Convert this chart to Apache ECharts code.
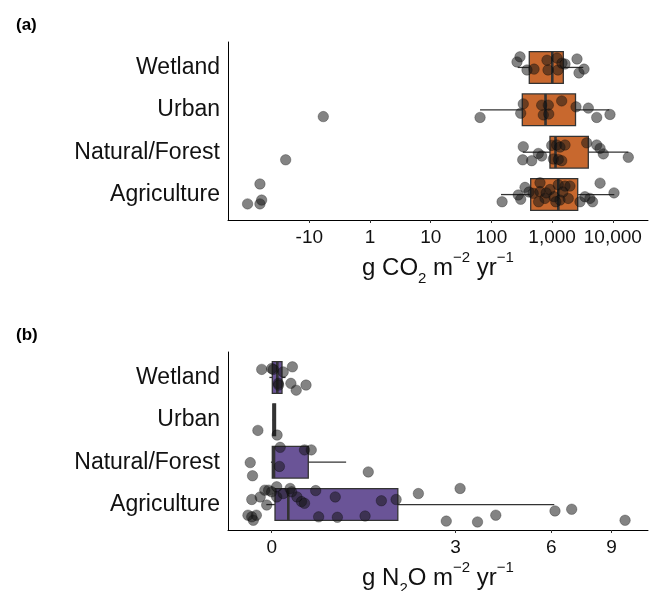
<!DOCTYPE html>
<html>
<head>
<meta charset="utf-8">
<script src="https://cdn.jsdelivr.net/npm/echarts@6/dist/echarts.min.js"></script>
<style>
html,body{margin:0;padding:0;background:#fff;}
#c{width:657px;height:591px;}
</style>
</head>
<body>
<div id="c"></div>
<script>
// ---------- data ----------
const categories = ['Agriculture', 'Natural/Forest', 'Urban', 'Wetland'];

// CO2 (g CO2 m-2 yr-1): box stats [low whisker, q1, median, q3, high whisker]
const co2BoxAgriculture = [144, 444, 1265, 2641, 10590];
const co2BoxNatural = [328, 923, 1138, 3948, 17990];
const co2BoxUrban = [65, 323, 779, 2430, 8750];
const co2BoxWetland = [271, 421, 1007, 1530, 3266];

// points: [value, vertical jitter in category units]
const co2Agriculture = [[-104,-0.22],[-65,0.25],[-65,-0.22],[-61,-0.13],[150,-0.17],[277,-0.01],[304,-0.11],[358,0.17],[416,0.06],[488,0.03],[632,0.28],[632,0.07],[764,-0.09],[923,0.12],[1075,-0.05],[1265,0.23],[1349,-0.13],[1632,0.2],[1842,-0.09],[1966,0.2],[1150,-0.17],[1500,0.06],[2883,-0.17],[3477,-0.05],[4200,-0.09],[4640,-0.17],[6170,0.27],[10470,0.04],[600,-0.17],[800,0.04]];
const co2Natural = [[-24.5,-0.18],[335,0.13],[328,-0.18],[461,-0.2],[593,-0.03],[674,-0.09],[985,0.16],[1190,0.17],[1349,0.12],[1632,0.17],[1047,-0.16],[1265,-0.17],[1439,-0.2],[3715,0.22],[5430,0.17],[6170,0.09],[6980,-0.04],[17990,-0.12]];
const co2Urban = [[-5.88,-0.16],[65,-0.18],[304,-0.08],[335,0.14],[674,0.11],[716,-0.12],[866,0.11],[880,-0.1],[1439,0.21],[2477,0.07],[3952,0.04],[5430,-0.18],[8990,-0.11]];
const co2Wetland = [[264,0.13],[296,0.25],[386,-0.06],[504,-0.04],[824,0.17],[856,-0.06],[1205,0.22],[1250,-0.06],[1455,0.1],[1632,0.08],[2572,0.2],[2773,-0.13],[3356,-0.04]];

// N2O (g N2O m-2 yr-1)
const n2oBoxAgriculture = [-0.07, 0.043, 0.216, 1.83, 6.12];
const n2oBoxNatural = [-0.01, 0.008, 0.03, 0.48, 1.006];
const n2oBoxUrban = [0.01, 0.015, 0.03, 0.05, 0.05];
const n2oBoxWetland = [-0.03, 0.008, 0.073, 0.134, 0.18];

const n2oAgriculture = [[-0.31,-0.25],[-0.26,0.12],[-0.24,-0.37],[-0.2,-0.25],[-0.26,-0.29],[-0.15,0.18],[-0.09,0.34],[-0.065,-0.01],[-0.04,0.34],[0,0.3],[0.065,0.42],[0.065,0.18],[0.15,0.26],[0.24,0.38],[0.26,0.3],[0.33,0.18],[0.39,0.07],[0.43,0.03],[0.58,0.33],[0.62,-0.29],[0.85,0.18],[0.88,-0.3],[1.29,-0.27],[1.55,0.09],[1.8,0.12],[2.21,0.26],[2.79,-0.39],[3.11,0.38],[3.55,-0.41],[4.06,-0.25],[6.15,-0.15],[6.89,-0.11],[9.85,-0.37]];
const n2oNatural = [[-0.28,-0.01],[-0.25,-0.32],[0.11,0.35],[0.1,-0.1],[0.43,0.29],[0.52,0.29],[1.34,-0.23]];
const n2oUrban = [[-0.18,-0.25],[0.07,-0.36]];
const n2oWetland = [[-0.13,0.19],[0.0,0.21],[0.02,0.19],[0.15,0.13],[0.27,0.25],[0.086,-0.14],[0.09,-0.18],[0.25,-0.14],[0.32,-0.3],[0.45,-0.18]];

// tick labels
const co2TickValues = [-10, 1, 10, 100, 1000, 10000];
const co2TickLabels = ['-10', '1', '10', '100', '1,000', '10,000'];
const n2oTickValues = [0, 3, 6, 9];
const n2oTickLabels = ['0', '3', '6', '9'];

// ---------- scales (axis transforms) ----------
function tfCO2(v){ return Math.sign(v) * Math.log10(Math.max(1, Math.abs(v))); }
function tfN2O(v){ return Math.asinh(v / 2); }

const FONT = 'Liberation Sans, Arial, sans-serif';
const ORANGE = '#C8682E';
const PURPLE = '#6A5497';
const LINE = '#333333';
const TEXT = '#111111';

function buildBoxData(boxes, tf){
  return boxes.map((b, i) => [i].concat(b.map(tf)));
}
function buildPoints(groups, tf){
  const out = [];
  groups.forEach((g, i) => g.forEach(p => out.push([tf(p[0]), i + p[1]])));
  return out;
}

function boxRenderer(fill){
  return function(params, api){
    const y = api.value(0);
    const lo = api.coord([api.value(1), y]);
    const q1 = api.coord([api.value(2), y]);
    const md = api.coord([api.value(3), y]);
    const q3 = api.coord([api.value(4), y]);
    const hi = api.coord([api.value(5), y]);
    const half = api.size([0, 0.375])[1];
    const cy = lo[1];
    return {
      type: 'group',
      children: [
        {type:'line', shape:{x1:lo[0], y1:cy, x2:q1[0], y2:cy}, style:{stroke:LINE, lineWidth:1.3}},
        {type:'line', shape:{x1:q3[0], y1:cy, x2:hi[0], y2:cy}, style:{stroke:LINE, lineWidth:1.3}},
        {type:'rect', shape:{x:q1[0], y:cy-half, width:Math.max(q3[0]-q1[0], 0.5), height:2*half}, style:{fill:fill, stroke:LINE, lineWidth:1.3}},
        {type:'line', shape:{x1:md[0], y1:cy-half, x2:md[0], y2:cy+half}, style:{stroke:LINE, lineWidth:2.6}}
      ]
    };
  };
}

const catAxisCommon = {
  type: 'value', min: -0.6, max: 3.6,
  axisLine: {show: true, onZero: false, lineStyle: {color: '#000', width: 1}},
  axisTick: {show: false},
  splitLine: {show: false},
  axisLabel: {
    customValues: [0, 1, 2, 3],
    formatter: v => categories[Math.round(v)],
    fontSize: 23, color: TEXT, fontFamily: FONT, margin: 8
  }
};

function nameRich(){
  return {
    n: {fontSize: 24, fontFamily: FONT, color: TEXT, lineHeight: 30, verticalAlign: 'bottom'},
    sub: {fontSize: 15, fontFamily: FONT, color: TEXT, lineHeight: 22, verticalAlign: 'bottom', padding:[0,0,-6,0]},
    sup: {fontSize: 15, fontFamily: FONT, color: TEXT, lineHeight: 15, verticalAlign: 'top'}
  };
}

const co2Ticks = co2TickValues.map(tfCO2);
const n2oTicks = n2oTickValues.map(tfN2O);

const option = {
  animation: false,
  backgroundColor: '#fff',
  title: [
    {text: '(a)', left: 11, top: 12, textStyle: {fontSize: 17, fontWeight: 'bold', fontFamily: FONT, color: '#000'}},
    {text: '(b)', left: 11, top: 322, textStyle: {fontSize: 17, fontWeight: 'bold', fontFamily: FONT, color: '#000'}}
  ],
  grid: [
    {left: 228, top: 42, width: 420, height: 178, outerBoundsMode: 'none', containLabel: false},
    {left: 228, top: 352, width: 420, height: 178, outerBoundsMode: 'none', containLabel: false}
  ],
  xAxis: [
    {
      gridIndex: 0, type: 'value',
      min: (228 - 370) / 60.7, max: (648 - 370) / 60.7,
      axisLine: {show: true, onZero: false, lineStyle: {color: '#000', width: 1}},
      axisTick: {show: true, length: 3, customValues: co2Ticks, lineStyle: {color: '#333'}},
      splitLine: {show: false},
      axisLabel: {
        customValues: co2Ticks,
        formatter: v => { const i = co2Ticks.findIndex(t => Math.abs(t - v) < 1e-6); return i >= 0 ? co2TickLabels[i] : ''; },
        fontSize: 19, color: TEXT, fontFamily: FONT, margin: 8
      },
      name: '{n|g CO}{sub|2}{n| m}{sup|−2}{n| yr}{sup|−1}',
      nameLocation: 'middle', nameGap: 30,
      nameTextStyle: {rich: nameRich()}
    },
    {
      gridIndex: 1, type: 'value',
      min: (228 - 271.7) / 153.8, max: (648 - 271.7) / 153.8,
      axisLine: {show: true, onZero: false, lineStyle: {color: '#000', width: 1}},
      axisTick: {show: true, length: 3, customValues: n2oTicks, lineStyle: {color: '#333'}},
      splitLine: {show: false},
      axisLabel: {
        customValues: n2oTicks,
        formatter: v => { const i = n2oTicks.findIndex(t => Math.abs(t - v) < 1e-6); return i >= 0 ? n2oTickLabels[i] : ''; },
        fontSize: 19, color: TEXT, fontFamily: FONT, margin: 8
      },
      name: '{n|g N}{sub|2}{n|O m}{sup|−2}{n| yr}{sup|−1}',
      nameLocation: 'middle', nameGap: 30,
      nameTextStyle: {rich: nameRich()}
    }
  ],
  yAxis: [
    Object.assign({gridIndex: 0}, catAxisCommon),
    Object.assign({gridIndex: 1}, catAxisCommon)
  ],
  series: [
    {
      type: 'custom', xAxisIndex: 0, yAxisIndex: 0, z: 2,
      renderItem: boxRenderer(ORANGE),
      encode: {x: [1,2,3,4,5], y: 0},
      data: buildBoxData([co2BoxAgriculture, co2BoxNatural, co2BoxUrban, co2BoxWetland], tfCO2)
    },
    {
      type: 'scatter', xAxisIndex: 0, yAxisIndex: 0, z: 3,
      symbolSize: 10.5,
      itemStyle: {color: 'rgba(20,20,20,0.53)', borderColor: 'rgba(0,0,0,0.35)', borderWidth: 0.8, opacity: 1},
      data: buildPoints([co2Agriculture, co2Natural, co2Urban, co2Wetland], tfCO2)
    },
    {
      type: 'custom', xAxisIndex: 1, yAxisIndex: 1, z: 2,
      renderItem: boxRenderer(PURPLE),
      encode: {x: [1,2,3,4,5], y: 0},
      data: buildBoxData([n2oBoxAgriculture, n2oBoxNatural, n2oBoxUrban, n2oBoxWetland], tfN2O)
    },
    {
      type: 'scatter', xAxisIndex: 1, yAxisIndex: 1, z: 3,
      symbolSize: 10.5,
      itemStyle: {color: 'rgba(20,20,20,0.53)', borderColor: 'rgba(0,0,0,0.35)', borderWidth: 0.8, opacity: 1},
      data: buildPoints([n2oAgriculture, n2oNatural, n2oUrban, n2oWetland], tfN2O)
    }
  ]
};

const chart = echarts.init(document.getElementById('c'), null, {renderer: 'canvas'});
chart.setOption(option);
</script>
</body>
</html>
